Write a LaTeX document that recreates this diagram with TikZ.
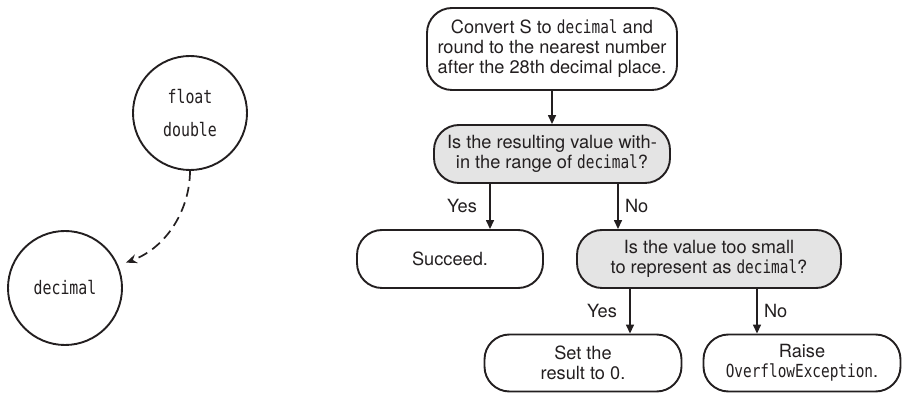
\documentclass[tikz,border=0pt]{standalone}
\usepackage{fontspec}
\setmainfont{TeX Gyre Heros}
\newfontfamily\codefont[FakeStretch=0.8]{DejaVu Sans Mono}
\usetikzlibrary{arrows.meta,calc}
\definecolor{ink}{HTML}{231F20}
\definecolor{qfill}{HTML}{E4E4E4}
\newcommand{\code}[1]{{\codefont\fontsize{18}{20}\selectfont #1}}
\begin{document}
\begin{tikzpicture}[x=1pt,y=1pt,
  every node/.style={font=\fontsize{18.2}{20}\selectfont, text=ink},
  box/.style={draw=ink, line width=1.9pt, rounded corners=25pt, align=center, inner sep=0pt},
  ask/.style={box, fill=qfill},
  ring/.style={draw=ink, line width=1.9pt, circle, inner sep=0pt, minimum size=114pt,
    align=center, font=\codefont\fontsize{18.6}{33}\selectfont},
  flow/.style={draw=ink, line width=1.5pt, -{Triangle[length=9pt,width=8pt]}},
  castflow/.style={draw=ink, line width=1.7pt, dash pattern=on 10pt off 6pt,
    -{Stealth[length=11pt,width=9pt]}}
]
\useasboundingbox (0,0) rectangle (902,393);

% conversion pair
\node[ring] (fl) at (190,280) {float\\double};
\node[ring] (dec) at (65,105) {decimal};
\coordinate (tip) at ($(dec.center)+(22.6:66)$);
\draw[castflow] (fl.south) .. controls (190,185) and (168,146) .. (tip);

% flowchart
\node[box, minimum width=250pt, minimum height=82pt] (start) at (552,344)
  {Convert S to \code{decimal} and\\round to the nearest number\\after the 28th decimal place.};
\node[ask, minimum width=236pt, minimum height=58pt] (range) at (552,239)
  {Is the resulting value with-\\in the range of \code{decimal}?};
\node[box, minimum width=186pt, minimum height=58pt] (ok) at (450,134) {Succeed.};
\node[ask, minimum width=264pt, minimum height=58pt] (small) at (709,134)
  {Is the value too small\\to represent as \code{decimal}?};
\node[box, minimum width=197pt, minimum height=57pt] (zero) at (583,30)
  {Set the\\result to 0.};
\node[box, minimum width=197pt, minimum height=57pt] (raise) at (802,30)
  {Raise\\\code{OverflowException}.};

\draw[flow] (start.south) -- (range.north);
\draw[flow] ([xshift=-62pt]range.south) -- ([xshift=-62pt]range.south |- ok.north)
  node[midway, left=9pt] {Yes};
\draw[flow] ([xshift=66pt]range.south) -- ([xshift=66pt]range.south |- small.north)
  node[midway, right=3pt] {No};
\draw[flow] ([xshift=-79pt]small.south) -- ([xshift=-79pt]small.south |- zero.north)
  node[midway, left=9pt] {Yes};
\draw[flow] ([xshift=48pt]small.south) -- ([xshift=48pt]small.south |- raise.north)
  node[midway, right=3pt] {No};
\end{tikzpicture}
\end{document}
